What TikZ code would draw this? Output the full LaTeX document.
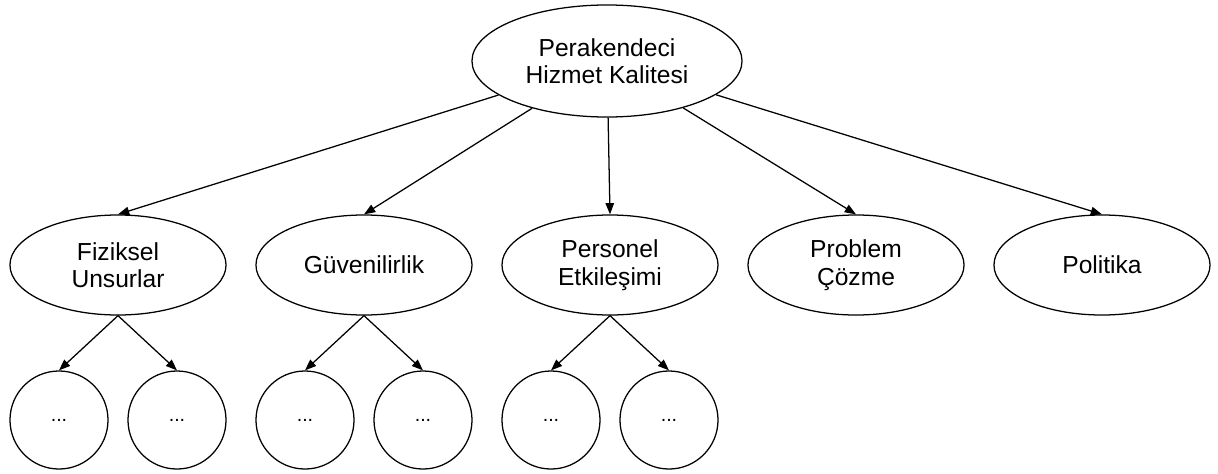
\documentclass[tikz,border=0pt]{standalone}
\usepackage{fontspec}
\setmainfont{Liberation Sans}
\usetikzlibrary{arrows.meta,shapes.geometric}

\begin{document}
\begin{tikzpicture}[x=.025cm,y=-.025cm,line width=.9pt,
  ana/.style={draw,ellipse,inner sep=0pt,minimum width=6.75cm,minimum height=2.8cm,align=center,font=\fontsize{17.5}{19.5}\selectfont},
  boyut/.style={draw,ellipse,inner sep=0pt,minimum width=5.4cm,minimum height=2.5cm,align=center,font=\fontsize{17.5}{19.5}\selectfont},
  alt/.style={draw,circle,inner sep=0pt,minimum size=2.45cm,font=\fontsize{14}{16}\selectfont},
  ok/.style={-{Triangle[length=8pt,width=6pt]}}]
  \useasboundingbox (0,0) rectangle (1218,474);
  % ana kavram
  \node[ana] (phk) at (607,61) {Perakendeci\\Hizmet Kalitesi};
  % boyutlar
  \node[boyut] (fiz) at (118,265) {Fiziksel\\Unsurlar};
  \node[boyut] (guv) at (364,265) {Güvenilirlik};
  \node[boyut] (per) at (610,265) {Personel\\Etkileşimi};
  \node[boyut] (pro) at (856,265) {Problem\\Çözme};
  \node[boyut] (pol) at (1102,265) {Politika};
  \foreach \b in {fiz,guv,per,pro,pol}
    \draw[ok] (phk) -- (\b.north);
  % alt boyutlar
  \foreach \b/\x in {fiz/118,guv/364,per/610}{
    \node[alt] (\b-a) at (\x-59,420) {...};
    \node[alt] (\b-b) at (\x+59,420) {...};
    \draw[ok] (\b.south) -- (\b-a.north);
    \draw[ok] (\b.south) -- (\b-b.north);
  }
\end{tikzpicture}
\end{document}
